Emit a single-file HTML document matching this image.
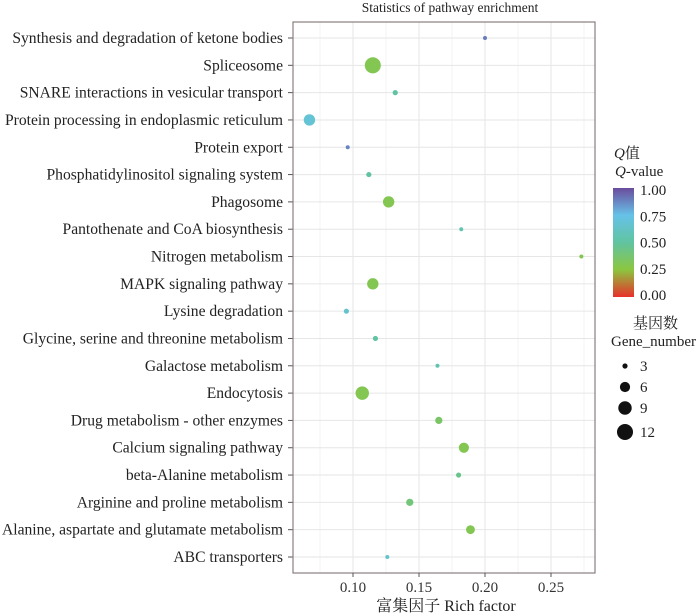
<!DOCTYPE html>
<html><head><meta charset="utf-8"><style>
body{margin:0;background:#fff}
svg{display:block;font-family:"Liberation Serif","Noto Serif CJK SC",serif}
</style></head><body>
<svg id="c" width="700" height="615"></svg>
<script>
const pathways=["Synthesis and degradation of ketone bodies","Spliceosome","SNARE interactions in vesicular transport","Protein processing in endoplasmic reticulum","Protein export","Phosphatidylinositol signaling system","Phagosome","Pantothenate and CoA biosynthesis","Nitrogen metabolism","MAPK signaling pathway","Lysine degradation","Glycine, serine and threonine metabolism","Galactose metabolism","Endocytosis","Drug metabolism - other enzymes","Calcium signaling pathway","beta-Alanine metabolism","Arginine and proline metabolism","Alanine, aspartate and glutamate metabolism","ABC transporters"];
const richFactor=[0.200,0.115,0.132,0.067,0.096,0.112,0.127,0.182,0.273,0.115,0.095,0.117,0.164,0.107,0.165,0.184,0.180,0.143,0.189,0.126];
const geneNumber=[1,12,3,7,2,3,7,2,2,7,3,3,2,9,4,6,3,4,5,2];
const qValue=[0.9,0.3,0.5,0.68,0.88,0.5,0.3,0.55,0.3,0.3,0.65,0.5,0.55,0.3,0.35,0.3,0.45,0.4,0.3,0.65];
const xTicks=[0.10,0.15,0.20,0.25];
const qTicks=[1.00,0.75,0.50,0.25,0.00];
const sizeTicks=[3,6,9,12];
const NS="http://www.w3.org/2000/svg";
const svg=document.getElementById('c');
function el(t,a,p){const e=document.createElementNS(NS,t);for(const k in a)e.setAttribute(k,a[k]);(p||svg).appendChild(e);return e;}
const L=293,R=595,T=22,B=573;
const xS=v=>353+(v-0.1)*1320;
const yS=i=>38+i*(557-38)/19;
const rS=n=>Math.max(2,Math.sqrt(Math.max(0,6.4*n-12.5)));
const stops=[[0,[232,48,42]],[0.25,[140,198,63]],[0.5,[96,196,160]],[0.75,[102,194,232]],[1,[106,76,156]]];
function col(q){for(let i=0;i<stops.length-1;i++){const [a,ca]=stops[i],[b,cb]=stops[i+1];if(q<=b){const t=(q-a)/(b-a);return 'rgb('+ca.map((c,j)=>Math.round(c+(cb[j]-c)*t)).join(',')+')';}}return 'rgb(106,76,156)';}
let g=el('g',{});
for(let v=0.075;v<0.28;v+=0.05){el('line',{x1:xS(v),x2:xS(v),y1:T,y2:B,stroke:'#f3f3f3','stroke-width':1},g);}
xTicks.forEach(v=>el('line',{x1:xS(v),x2:xS(v),y1:T,y2:B,stroke:'#e6e6e6','stroke-width':1},g));
pathways.forEach((p,i)=>el('line',{x1:L,x2:R,y1:yS(i),y2:yS(i),stroke:'#e6e6e6','stroke-width':1},g));
pathways.forEach((p,i)=>{
 const c=el('circle',{cx:xS(richFactor[i]),cy:yS(i),r:rS(geneNumber[i]),fill:col(qValue[i])});
 
 
 const t=el('text',{x:283,y:yS(i)+5,'text-anchor':'end','font-size':15.6,fill:'#222'});t.textContent=p;
 
 
 el('line',{x1:288,x2:L,y1:yS(i),y2:yS(i),stroke:'#555'});
});
const fr=el('rect',{x:L,y:T,width:R-L,height:B-T,fill:'none',stroke:'#8a7e7e','stroke-width':1.2});

xTicks.forEach(v=>{el('line',{x1:xS(v),x2:xS(v),y1:B,y2:B+4,stroke:'#555'});
 const t=el('text',{x:xS(v),y:B+19,'text-anchor':'middle','font-size':15,fill:'#333'});t.textContent=v.toFixed(2);
 });
let t=el('text',{x:446,y:611,'text-anchor':'middle','font-size':16,fill:'#222'});t.textContent='富集因子  Rich factor';

t=el('text',{x:450,y:12,'text-anchor':'middle','font-size':13.5,fill:'#222'});t.textContent='Statistics of pathway enrichment';

t=el('text',{x:614,y:158,'font-size':15,fill:'#222'});t.innerHTML='<tspan font-style="italic">Q</tspan>值';

t=el('text',{x:615,y:176,'font-size':15,fill:'#222'});t.innerHTML='<tspan font-style="italic">Q</tspan>-value';

const defs=el('defs',{});const lg=el('linearGradient',{id:'qg',x1:0,y1:1,x2:0,y2:0},defs);
stops.forEach(s=>el('stop',{offset:s[0],'stop-color':'rgb('+s[1].join(',')+')'},lg));
const cb=el('rect',{x:613,y:188,width:21,height:109,fill:'url(#qg)'});

qTicks.forEach(q=>{const y=295-q*105;
 const tt=el('text',{x:640,y:y+5,'font-size':15,fill:'#222'});tt.textContent=q.toFixed(2);
 });
t=el('text',{x:633,y:328,'font-size':15,fill:'#222'});t.textContent='基因数';

t=el('text',{x:611,y:346,'font-size':15,fill:'#222'});t.textContent='Gene_number';

const sy=[366,387,408,432];
sizeTicks.forEach((n,i)=>{const c=el('circle',{cx:625,cy:sy[i],r:rS(n),fill:'#111'});
 
 const tt=el('text',{x:640,y:sy[i]+5,'font-size':15,fill:'#222'});tt.textContent=n;
 });
</script>
</body></html>
